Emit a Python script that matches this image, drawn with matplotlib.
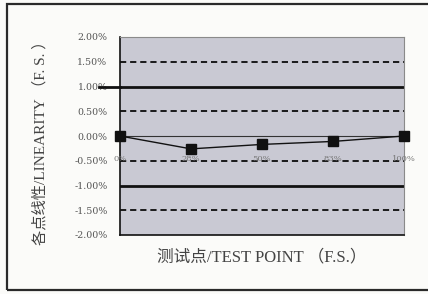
import matplotlib
matplotlib.use("Agg")
import matplotlib.pyplot as plt
from matplotlib.patches import Rectangle

# test points and linearity error (% of full scale)
test_points = ["0%", "28%", "50%", "83%", "100%"]
linearity = [0.00, -0.26, -0.17, -0.11, 0.00]
y_ticks = [2.0, 1.5, 1.0, 0.5, 0.0, -0.5, -1.0, -1.5, -2.0]
limit_lines = [1.0, -1.0]
dash_lines = [1.5, 0.5, -0.5, -1.5]

serif = ["DejaVu Serif", "Noto Sans CJK SC"]
label_font = ["Liberation Serif", "Noto Sans CJK SC"]

fig = plt.figure(figsize=(4.28, 2.94), dpi=100)
fig.patch.set_facecolor("#fbfbf9")

# outer frame (right side is cut off in the scan)
fig.patches.append(Rectangle((7 / 428, 4 / 294), 1.2, 1 - 8 / 294,
                             transform=fig.transFigure, fill=False,
                             edgecolor="#2a2a2a", linewidth=1.6))

ax = fig.add_axes([120 / 428, 1 - 235 / 294, 284 / 428, 198 / 294])
ax.set_facecolor("#c9c9d3")

x = list(range(len(test_points)))
ax.set_xlim(0, len(test_points) - 1)
ax.set_ylim(-2.0, 2.0)

for yv in dash_lines:
    ax.axhline(yv, color="#1a1a1a", linewidth=1.4, linestyle=(0, (3.2, 2.0)))
for yv in limit_lines:
    ax.axhline(yv, color="#111111", linewidth=2.0)
# the +1% line runs out over the tick label in the original
ax.plot([-0.3, 0], [1.0, 1.0], color="#111111", linewidth=2.0, clip_on=False)
ax.axhline(0, color="#333333", linewidth=0.8)

ax.plot(x, linearity, color="#111111", linewidth=1.0, marker="s",
        markersize=7, markerfacecolor="#111111", markeredgecolor="#111111",
        clip_on=False, zorder=5)

for xi, lab in zip(x, test_points):
    ax.text(xi, -0.47, lab, ha="center", va="center", fontsize=6,
            color="#777777", family=serif)

ax.set_xticks([])
ax.set_yticks(y_ticks)
ax.set_yticklabels(["%.2f%%" % v for v in y_ticks], family=serif,
                   fontsize=6.8, color="#555555")
ax.tick_params(axis="y", length=0, pad=9)

for side in ["top", "right"]:
    ax.spines[side].set_color("#8a8a8a")
    ax.spines[side].set_linewidth(0.8)
for side in ["left", "bottom"]:
    ax.spines[side].set_color("#111111")
    ax.spines[side].set_linewidth(1.2)

fig.text(40 / 428, 1 - 139 / 294, "各点线性/LINEARITY （F. S. ）", rotation=90,
         ha="center", va="center", fontsize=11, color="#444444",
         family=label_font)
fig.text(262 / 428, 1 - 257 / 294, "测试点/TEST POINT （F.S.）",
         ha="center", va="center", fontsize=12, color="#444444",
         family=label_font)

fig.savefig("out.png", dpi=100, facecolor=fig.get_facecolor())
